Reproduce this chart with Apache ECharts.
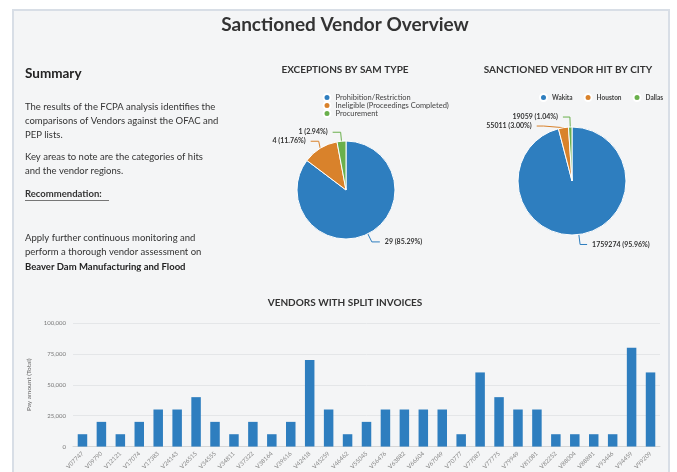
<!DOCTYPE html>
<html>
<head>
<meta charset="utf-8">
<script src="https://cdn.jsdelivr.net/npm/echarts@6/dist/echarts.min.js"></script>
<style>
  html, body { margin: 0; padding: 0; background: #fff; }
  #chart { width: 677px; height: 472px; }
</style>
</head>
<body>
<div id="chart"></div>
<script>
// data
const vendorIds = ['V07747', 'V09790', 'V12121', 'V17074', 'V17383', 'V24143', 'V26515', 'V34555',
  'V34811', 'V37322', 'V38164', 'V39616', 'V42418', 'V45259', 'V46462', 'V55045', 'V56476',
  'V63882', 'V66604', 'V67049', 'V70777', 'V77087', 'V77775', 'V79949', 'V81081', 'V82252',
  'V88004', 'V88881', 'V93446', 'V94459', 'V99209']
const payAmounts = [10000, 20000, 10000, 20000, 30000, 30000, 40000, 20000,
  10000, 20000, 10000, 20000, 70000, 30000, 10000, 20000, 30000,
  30000, 30000, 30000, 10000, 60000, 40000, 30000, 30000, 10000,
  10000, 10000, 10000, 80000, 60000]
const yTicks = [0, 25000, 50000, 75000, 100000]

const samTypes = ['Prohibition/Restriction', 'Ineligible (Proceedings Completed)', 'Procurement']
const samCounts = [29, 4, 1]

const cities = ['Wakita', 'Houston', 'Dallas']
const cityHits = [1759274, 55011, 19059]

// summary text, [y, text]
const summaryLines = [
  [107, 'The results of the FCPA analysis identifies the'],
  [121, 'comparisons of Vendors against the OFAC and'],
  [135, 'PEP lists.'],
  [157, 'Key areas to note are the categories of hits'],
  [171, 'and the vendor regions.'],
  [238, 'Apply further continuous monitoring and'],
  [252, 'perform a thorough vendor assessment on']
]

const FONT = 'Lato'
const BG = '#f4f5f6'

const chart = echarts.init(document.getElementById('chart'))

function txt(x, y, text, size, weight, color, align) {
  return {
    type: 'text', x: x, y: y, z: 10,
    style: {
      text: text, fontFamily: FONT, fontSize: size, fontWeight: weight || 'normal',
      fill: color || '#333', align: align || 'left', verticalAlign: 'middle'
    }
  }
}

const graphics = [
  // panel
  { type: 'rect', z: -10, shape: { x: 13, y: 10, width: 656, height: 480 },
    style: { fill: BG, stroke: '#d8dee6', lineWidth: 2 } },
  txt(345, 25, 'Sanctioned Vendor Overview', 19, 'bold', '#333', 'center'),
  txt(25, 74, 'Summary', 13.5, 'bold', '#222'),
  txt(345, 70, 'EXCEPTIONS BY SAM TYPE', 10, 'bold', '#333', 'center'),
  txt(568, 70, 'SANCTIONED VENDOR HIT BY CITY', 10, 'bold', '#333', 'center'),
  txt(345, 303, 'VENDORS WITH SPLIT INVOICES', 10, 'bold', '#333', 'center'),
  txt(25, 194, 'Recommendation:', 9.5, 'bold', '#333'),
  { type: 'line', z: 10, shape: { x1: 25, y1: 200.5, x2: 109, y2: 200.5 },
    style: { stroke: '#555', lineWidth: 0.8 } },
  txt(25, 267, 'Beaver Dam Manufacturing and Flood', 9.5, 'bold', '#222'),
  // the summary box cuts its text off here
  { type: 'rect', z: 20, shape: { x: 18, y: 271.5, width: 230, height: 14 },
    style: { fill: BG } }
]
summaryLines.forEach(l => graphics.push(txt(25, l[0], l[1], 9.5, 'normal', '#333')))

function pieLabel(values) {
  const total = values.reduce((a, b) => a + b, 0)
  return {
    formatter: p => p.value + ' (' + (p.value / total * 100).toFixed(2) + '%)',
    fontFamily: FONT,
    fontSize: 7,
    fontWeight: 'bold',
    color: '#333'
  }
}

chart.setOption({
  animation: false,
  backgroundColor: '#fff',
  color: ['#2e7ebf', '#d9822b', '#6ab04c'],
  textStyle: { fontFamily: FONT },
  graphic: graphics,
  legend: [
    {
      data: samTypes,
      orient: 'vertical',
      left: 322.5, top: 93, padding: 0,
      icon: 'circle', itemWidth: 7, itemHeight: 7, itemGap: -1,
      textStyle: { fontSize: 7.5, lineHeight: 7.5, color: '#444', fontFamily: FONT }
    },
    {
      data: cities,
      orient: 'horizontal',
      left: 539, top: 93, padding: 0,
      icon: 'circle', itemWidth: 7, itemHeight: 7, itemGap: 11,
      textStyle: { fontSize: 6.5, lineHeight: 7.5, color: '#444', fontFamily: FONT, fontWeight: 'bold' }
    }
  ],
  grid: { left: 73, right: 17, top: 323, bottom: 23.5 },
  xAxis: {
    type: 'category',
    data: vendorIds,
    axisLine: { lineStyle: { color: '#d6d6d6' } },
    axisTick: { lineStyle: { color: '#d6d6d6' }, length: 4 },
    axisLabel: { rotate: 45, fontSize: 6, color: '#888', margin: 6, interval: 0 }
  },
  yAxis: {
    type: 'value',
    min: yTicks[0],
    max: yTicks[yTicks.length - 1],
    interval: yTicks[1] - yTicks[0],
    name: 'Pay amount (Total)',
    nameLocation: 'middle',
    nameGap: 35,
    nameTextStyle: { fontSize: 6.5, color: '#666' },
    axisLine: { show: false },
    axisTick: { show: false },
    axisLabel: {
      fontSize: 6, color: '#777', margin: 7,
      formatter: v => v.toLocaleString('en-US')
    },
    splitLine: { lineStyle: { color: '#e4e6e8' } }
  },
  series: [
    {
      type: 'pie',
      name: 'SAM type',
      center: [346, 190],
      radius: 49,
      data: samTypes.map((n, i) => ({ name: n, value: samCounts[i] })),
      itemStyle: { borderColor: '#fff', borderWidth: 1 },
      label: pieLabel(samCounts),
      labelLine: { length: 9, length2: 8, lineStyle: { width: 1 } }
    },
    {
      type: 'pie',
      name: 'City',
      center: [572, 181],
      radius: 54,
      data: cities.map((n, i) => ({ name: n, value: cityHits[i] })),
      itemStyle: { borderColor: '#fff', borderWidth: 1 },
      label: pieLabel(cityHits),
      labelLine: { length: 10, length2: 7, lineStyle: { width: 1 } }
    },
    {
      type: 'bar',
      name: 'Pay amount',
      data: payAmounts,
      barWidth: 9.5,
      itemStyle: { color: '#2e7ebf' }
    }
  ]
})
</script>
</body>
</html>
